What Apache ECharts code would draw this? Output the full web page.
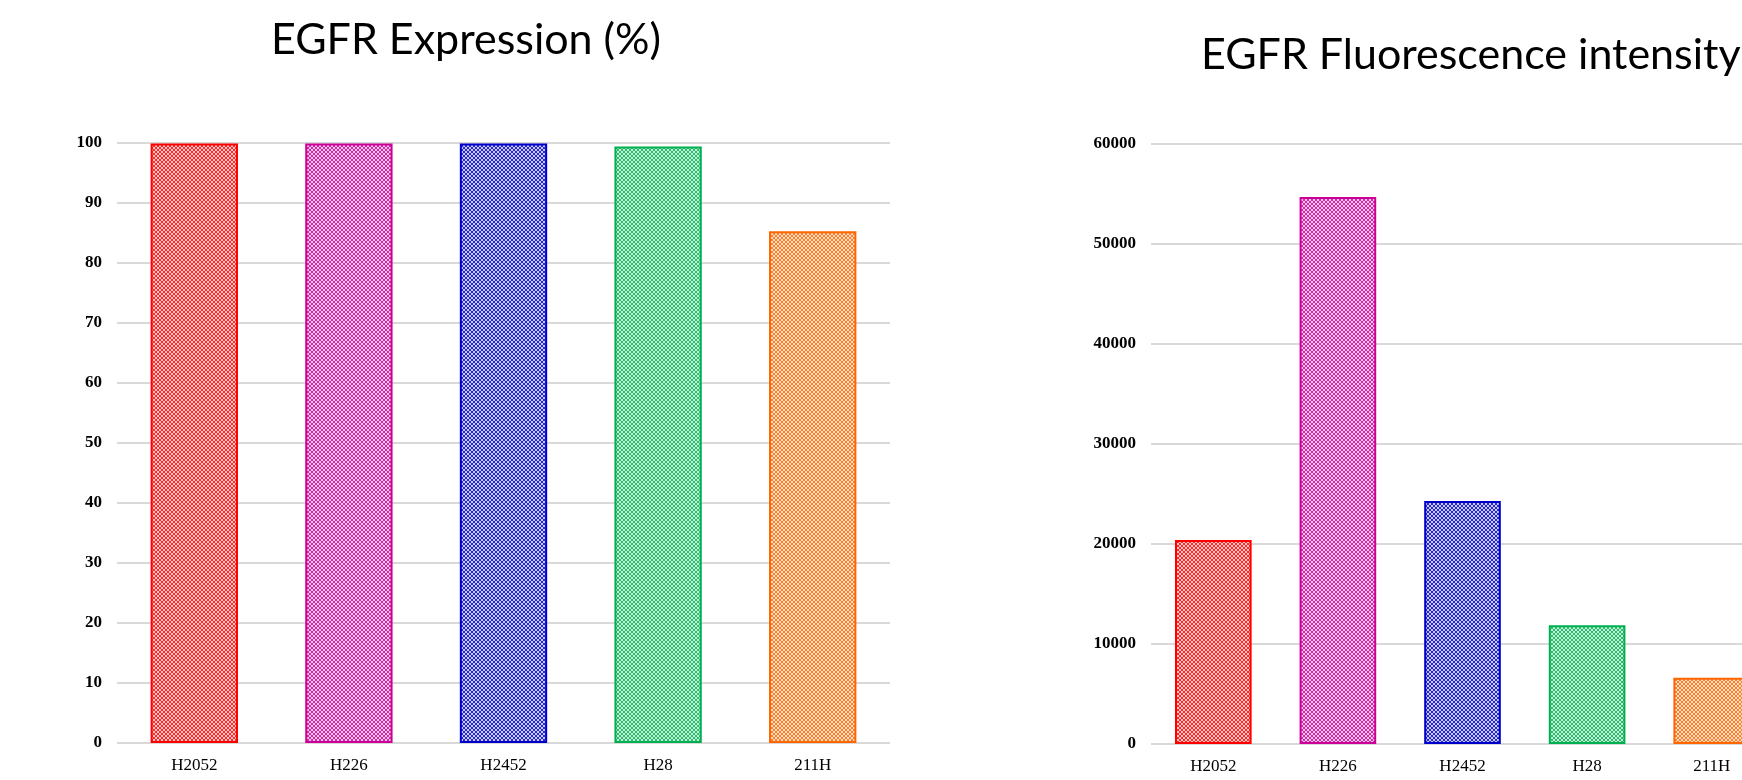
<!DOCTYPE html>
<html>
<head>
<meta charset="utf-8">
<script src="https://cdn.jsdelivr.net/npm/echarts@6/dist/echarts.min.js"></script>
<style>
html,body{margin:0;padding:0;background:#fff;overflow:hidden;width:1742px;height:780px;}
#chart{width:1800px;height:780px;}
</style>
</head>
<body>
<div id="chart"></div>
<script>
const categories = ['H2052', 'H226', 'H2452', 'H28', '211H'];
const expressionPct = [99.9, 99.9, 99.9, 99.4, 85.3];
const fluorescence = [20400, 54700, 24300, 11870, 6630];
const barColors = ['#FF0000', '#CC0099', '#0000CC', '#00B050', '#FF6600'];
const titleLeft = 'EGFR Expression (%)';
const titleRight = 'EGFR Fluorescence intensity';
const pctAxis = { min: 0, max: 100, interval: 10 };
const fluoAxis = { min: 0, max: 60000, interval: 10000 };

function makePattern(color) {
  const c = document.createElement('canvas');
  c.width = 8; c.height = 8;
  const ctx = c.getContext('2d');
  ctx.fillStyle = '#fff';
  ctx.fillRect(0, 0, 8, 8);
  ctx.globalAlpha = 0.22;
  ctx.fillStyle = color;
  ctx.fillRect(0, 0, 8, 8);
  ctx.globalAlpha = 0.8;
  for (let i = 0; i < 8; i++) {
    ctx.fillRect(i, i, 1, 1);
    ctx.fillRect(7 - i, i, 1, 1);
    ctx.fillRect((i + 4) % 8, i, 1, 1);
    ctx.fillRect((11 - i) % 8, i, 1, 1);
  }
  return c;
}

function barData(values) {
  return values.map((v, i) => ({
    value: v,
    itemStyle: {
      color: { image: makePattern(barColors[i]), repeat: 'repeat' },
      borderColor: barColors[i],
      borderWidth: 2
    }
  }));
}

const titleFont = { fontFamily: 'Lato', fontSize: 43, fontWeight: 'normal', color: '#000' };
const yLabel = { fontFamily: 'Liberation Serif', fontWeight: 'bold', fontSize: 17, color: '#000', margin: 15, formatter: v => String(v) };
const xLabel = { fontFamily: 'Liberation Serif', fontWeight: 'normal', fontSize: 17, color: '#000', margin: 14 };

const chart = echarts.init(document.getElementById('chart'), null, { renderer: 'canvas' });
chart.setOption({
  animation: false,
  backgroundColor: '#fff',
  title: [
    { text: titleLeft, left: 266, top: 14, textStyle: titleFont },
    { text: titleRight, left: 1196, top: 29, textStyle: titleFont }
  ],
  grid: [
    { left: 117, top: 143, width: 773, height: 600 },
    { left: 1151, top: 144, width: 623, height: 600 }
  ],
  xAxis: [0, 1].map(g => ({
    type: 'category',
    gridIndex: g,
    data: categories,
    axisLine: { show: false },
    axisTick: { show: false },
    axisLabel: xLabel
  })),
  yAxis: [
    Object.assign({ type: 'value', gridIndex: 0 }, pctAxis),
    Object.assign({ type: 'value', gridIndex: 1 }, fluoAxis)
  ].map(a => Object.assign(a, {
    axisLine: { show: false },
    axisTick: { show: false },
    axisLabel: yLabel,
    splitLine: { lineStyle: { color: '#d9d9d9', width: 2 } }
  })),
  series: [
    { type: 'bar', xAxisIndex: 0, yAxisIndex: 0, data: barData(expressionPct), barWidth: '56.5%' },
    { type: 'bar', xAxisIndex: 1, yAxisIndex: 1, data: barData(fluorescence), barWidth: '61.5%' }
  ]
});
</script>
</body>
</html>
